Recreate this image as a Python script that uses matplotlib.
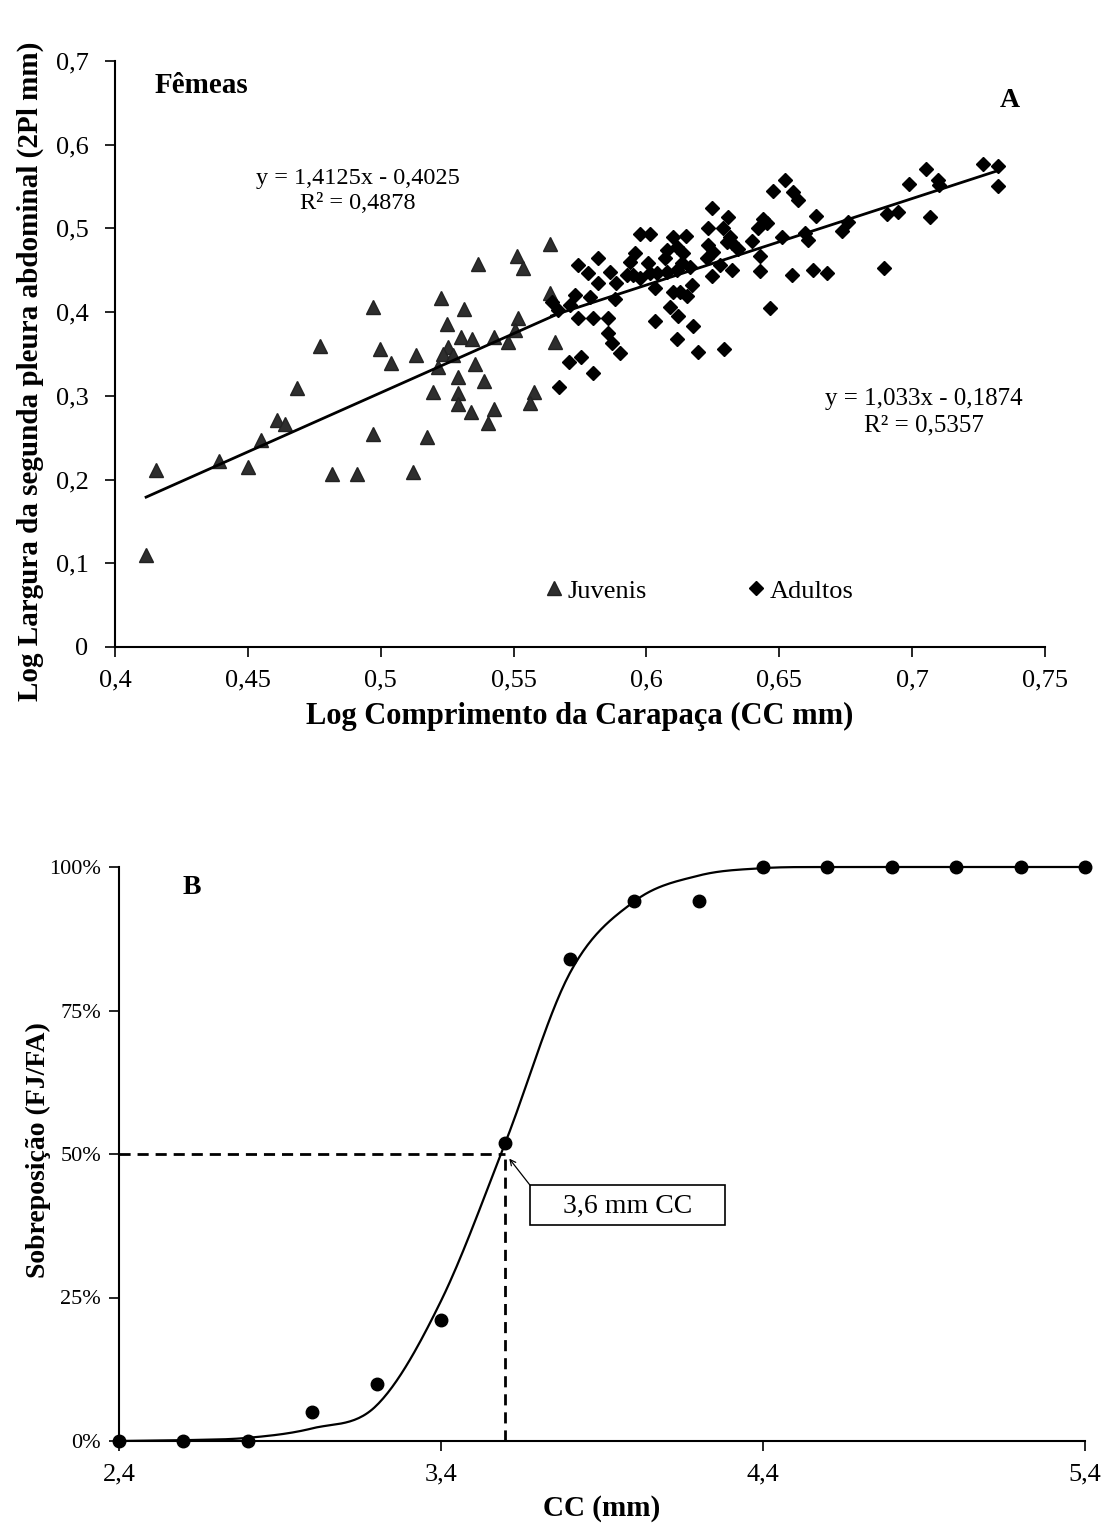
import numpy as np
import matplotlib.pyplot as plt

plt.rcParams['font.family'] = ['Liberation Serif', 'DejaVu Serif']

# ---- Painel A: log CC x log 2Pl (femeas) ----
juv_x = [0.4684, 0.4609, 0.4640, 0.4550, 0.4393, 0.4502, 0.4153, 0.4816, 0.4117, 0.4972,
         0.4772, 0.4997, 0.5039, 0.5133, 0.4970, 0.4912, 0.5120, 0.5173, 0.5367, 0.5512,
         0.5537, 0.5227, 0.5315, 0.5251, 0.5302, 0.5342, 0.5427, 0.5515, 0.5505, 0.5480,
         0.5252, 0.5236, 0.5273, 0.5217, 0.5355, 0.5290, 0.5390, 0.5198, 0.5290, 0.5290,
         0.5577, 0.5562, 0.5427, 0.5340, 0.5402, 0.5637, 0.5637, 0.5656]
juv_y = [0.309, 0.271, 0.266, 0.247, 0.2226, 0.2147, 0.2114, 0.2067, 0.1099, 0.4058,
         0.3595, 0.3556, 0.3396, 0.3488, 0.2544, 0.2067, 0.2087, 0.2505, 0.4571, 0.467,
         0.4524, 0.4165, 0.4034, 0.3855, 0.370, 0.3675, 0.370, 0.3926, 0.3787, 0.3647,
         0.3587, 0.350, 0.3488, 0.3348, 0.3377, 0.3229, 0.3177, 0.305, 0.3038, 0.2903,
         0.3042, 0.2911, 0.2843, 0.2803, 0.2672, 0.4814, 0.4225, 0.3647]

adu_x = [0.5976, 0.6013, 0.6101, 0.6149, 0.5819, 0.5741, 0.5779, 0.5863, 0.5819, 0.5885,
         0.5957, 0.5938, 0.5926, 0.5951, 0.5976, 0.6007, 0.6013, 0.6039, 0.6076, 0.6070,
         0.6076, 0.6114, 0.6139, 0.6133, 0.6164, 0.6114, 0.6032, 0.6101, 0.6126, 0.6154,
         0.6173, 0.6089, 0.6119, 0.5731, 0.5788, 0.5882, 0.5643, 0.5668, 0.5712, 0.5744,
         0.5798, 0.5856, 0.6032, 0.6176, 0.5856, 0.5869, 0.5900, 0.6115, 0.6194, 0.5709,
         0.5753, 0.5798, 0.5672, 0.6521, 0.6477, 0.6553, 0.6572, 0.6246, 0.6308, 0.6638,
         0.6233, 0.6289, 0.6314, 0.6302, 0.6440, 0.6421, 0.6453, 0.6233, 0.6252, 0.6321,
         0.6346, 0.6396, 0.6509, 0.6597, 0.6609, 0.6760, 0.6735, 0.6227, 0.6277, 0.6321,
         0.6427, 0.6246, 0.6427, 0.6547, 0.6628, 0.6678, 0.6465, 0.6293, 0.7268, 0.7324,
         0.7324, 0.7052, 0.7098, 0.7102, 0.6989, 0.6904, 0.6948, 0.7067, 0.6894]
adu_y = [0.4933, 0.4933, 0.4901, 0.4909, 0.4643, 0.4563, 0.4464, 0.4483, 0.4344, 0.4344,
         0.4703, 0.4602, 0.4444, 0.4444, 0.4404, 0.4583, 0.4464, 0.4464, 0.4742, 0.4643,
         0.4483, 0.4782, 0.4703, 0.4583, 0.4543, 0.4503, 0.4285, 0.4244, 0.4244, 0.4189,
         0.4324, 0.4065, 0.3954, 0.4205, 0.4177, 0.4153, 0.4125, 0.4026, 0.4085, 0.3926,
         0.3933, 0.3933, 0.3894, 0.3831, 0.3754, 0.3635, 0.3515, 0.3685, 0.3527, 0.3401,
         0.3468, 0.3269, 0.3109, 0.5578, 0.5451, 0.5439, 0.5339, 0.5240, 0.5140, 0.5148,
         0.5001, 0.5001, 0.4901, 0.4841, 0.5109, 0.5001, 0.5061, 0.4802, 0.4722, 0.4829,
         0.4751, 0.4850, 0.4901, 0.4942, 0.4862, 0.5080, 0.4969, 0.4643, 0.4563, 0.4503,
         0.4671, 0.4432, 0.4491, 0.4444, 0.4503, 0.4471, 0.4055, 0.3560, 0.5766, 0.5746,
         0.5510, 0.5713, 0.5578, 0.5519, 0.5527, 0.5169, 0.5200, 0.5133, 0.4524]

juv_coef = (1.4125, -0.4025)
adu_coef = (1.033, -0.1874)
juv_eq = 'y = 1,4125x - 0,4025\nR² = 0,4878'
adu_eq = 'y = 1,033x - 0,1874\nR² = 0,5357'

xticks_a = [0.4, 0.45, 0.5, 0.55, 0.6, 0.65, 0.7, 0.75]
yticks_a = [0, 0.1, 0.2, 0.3, 0.4, 0.5, 0.6, 0.7]

# ---- Painel B: sobreposicao FJ/FA ----
cc = [2.4, 2.6, 2.8, 3.0, 3.2, 3.4, 3.6, 3.8, 4.0, 4.2, 4.4, 4.6, 4.8, 5.0, 5.2, 5.4]
sobrep = [0, 0, 0, 0.05, 0.10, 0.21, 0.52, 0.84, 0.94, 0.94, 1, 1, 1, 1, 1, 1]
sobrep_fit = [0, 0.0014, 0.0055, 0.022, 0.062, 0.244, 0.52, 0.815, 0.94, 0.985, 0.998, 1, 1, 1, 1, 1]
cc50 = 3.6
xticks_b = [2.4, 3.4, 4.4, 5.4]
yticks_b = [0, 0.25, 0.5, 0.75, 1.0]

TICK_FS = 19


def br(v, fmt):
    return fmt.format(v).replace('.', ',')


def smooth(xs, ys, n=30):
    # curva suavizada tipo Excel (Bezier / Catmull-Rom)
    x = np.asarray(xs, float)
    y = np.asarray(ys, float)
    px = np.concatenate([[x[0]], x, [x[-1]]])
    py = np.concatenate([[y[0]], y, [y[-1]]])
    t = np.linspace(0, 1, n)[:, None]
    outx, outy = [], []
    for i in range(1, len(px) - 2):
        p0 = np.array([px[i], py[i]])
        p3 = np.array([px[i + 1], py[i + 1]])
        p1 = p0 + (np.array([px[i + 1], py[i + 1]]) - np.array([px[i - 1], py[i - 1]])) / 6
        p2 = p3 - (np.array([px[i + 2], py[i + 2]]) - np.array([px[i], py[i]])) / 6
        seg = (1 - t) ** 3 * p0 + 3 * (1 - t) ** 2 * t * p1 + 3 * (1 - t) * t ** 2 * p2 + t ** 3 * p3
        outx.extend(seg[:, 0])
        outy.extend(seg[:, 1])
    return outx, outy


fig = plt.figure(figsize=(11.08, 15.26), dpi=100)

# ---------------- A ----------------
ax = fig.add_axes([115 / 1108, 1 - 647 / 1526, 930 / 1108, 586 / 1526])
ax.plot(juv_x, juv_y, '^', color='#2e2e2e', ms=10, mec='#222222', label='Juvenis', zorder=3)
ax.plot(adu_x, adu_y, 'D', color='black', ms=7, label='Adultos', zorder=3)

xj = np.array([min(juv_x), max(juv_x)])
ax.plot(xj, juv_coef[0] * xj + juv_coef[1], color='black', lw=2, zorder=4)
xa = np.array([min(adu_x), max(adu_x)])
ax.plot(xa, adu_coef[0] * xa + adu_coef[1], color='black', lw=2, zorder=4)

ax.set_xlim(0.4, 0.75)
ax.set_ylim(0, 0.7)
ax.set_xticks(xticks_a)
ax.set_xticklabels([br(v, '{:g}') for v in xticks_a])
ax.set_yticks(yticks_a)
ax.set_yticklabels([br(v, '{:g}') for v in yticks_a])
ax.tick_params(labelsize=TICK_FS, direction='out', length=7, width=1.2)
ax.tick_params(axis='x', pad=9)
ax.tick_params(axis='y', pad=12)
for s in ['top', 'right']:
    ax.spines[s].set_visible(False)
for s in ['left', 'bottom']:
    ax.spines[s].set_linewidth(1.5)

ax.set_xlabel('Log Comprimento da Carapaça (CC mm)', fontsize=22, fontweight='bold',
              va='center')
ax.xaxis.set_label_coords(0.5, -0.119)
ax.set_ylabel('Log Largura da segunda pleura abdominal (2Pl mm)', fontsize=21,
              fontweight='bold', va='center', ha='center')
ax.yaxis.set_label_coords(-0.0914, 0.47)

ax.text(0.043, 0.959, 'Fêmeas', transform=ax.transAxes, fontsize=21, fontweight='bold',
        ha='left', va='center')
ax.text(0.962, 0.933, 'A', transform=ax.transAxes, fontsize=20, fontweight='bold',
        ha='center', va='center')
ax.text(0.261, 0.778, juv_eq, transform=ax.transAxes, fontsize=17.5, ha='center', va='center',
        linespacing=1.25)
ax.text(0.87, 0.401, adu_eq, transform=ax.transAxes, fontsize=18, ha='center', va='center',
        linespacing=1.25)

ax.legend(loc='center', bbox_to_anchor=(0.628, 0.0956), ncol=2, frameon=False, fontsize=19,
          handlelength=0.7, handletextpad=0.15, columnspacing=3.8, borderpad=0)

# ---------------- B ----------------
bx = fig.add_axes([119 / 1108, 1 - 1441 / 1526, 966 / 1108, 574 / 1526])
fx, fy = smooth(cc, sobrep_fit)
bx.plot(fx, fy, color='black', lw=1.6, zorder=3, clip_on=False)
bx.plot(cc, sobrep, 'o', color='black', ms=9, zorder=4, clip_on=False)

bx.plot([cc[0], cc50], [0.5, 0.5], color='black', lw=2, ls=(0, (4, 2.5)), zorder=2)
bx.plot([cc50, cc50], [0, 0.5], color='black', lw=2, ls=(0, (4, 2.5)), zorder=2)

bx.add_patch(plt.Rectangle((3.676, 0.376), 0.606, 0.07, facecolor='white',
                           edgecolor='black', lw=1.2, zorder=5))
bx.text(3.979, 0.409, '3,6 mm CC', fontsize=20, ha='center', va='center', zorder=6)
bx.annotate('', xy=(3.612, 0.492), xytext=(3.676, 0.446),
            arrowprops=dict(arrowstyle='->', color='black', lw=0.9, shrinkA=0, shrinkB=0))

bx.set_xlim(2.4, 5.4)
bx.set_ylim(0, 1)
bx.set_xticks(xticks_b)
bx.set_xticklabels([br(v, '{:g}') for v in xticks_b])
bx.set_yticks(yticks_b)
bx.set_yticklabels(['{:d}%'.format(int(v * 100)) for v in yticks_b])
bx.tick_params(direction='out', length=7, width=1.2)
bx.tick_params(axis='x', labelsize=TICK_FS, pad=9)
bx.tick_params(axis='y', labelsize=16, pad=6)
for s in ['top', 'right']:
    bx.spines[s].set_visible(False)
for s in ['left', 'bottom']:
    bx.spines[s].set_linewidth(1.5)

bx.set_xlabel('CC (mm)', fontsize=21, fontweight='bold', va='center')
bx.xaxis.set_label_coords(0.5, -0.117)
bx.set_ylabel('Sobreposição (FJ/FA)', fontsize=20, fontweight='bold', va='center',
              ha='center')
bx.yaxis.set_label_coords(-0.0839, 0.507)
bx.text(0.0756, 0.965, 'B', transform=bx.transAxes, fontsize=20, fontweight='bold',
        ha='center', va='center')

fig.savefig('out.png', dpi=100)
